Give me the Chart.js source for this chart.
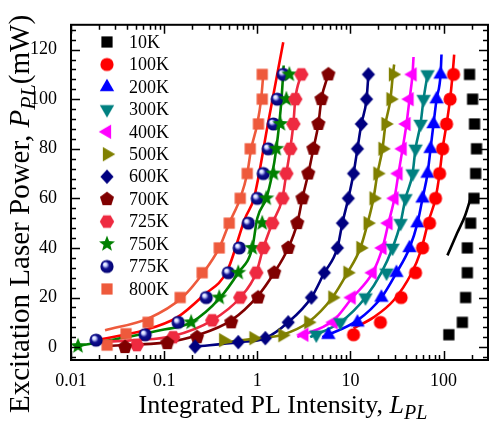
<!DOCTYPE html>
<html><head><meta charset="utf-8">
<script src="https://cdn.jsdelivr.net/npm/chart.js@4.4.1/dist/chart.umd.min.js"></script>
<style>html,body{margin:0;padding:0;background:#fff;}#wrap{width:496px;height:425px;}</style>
</head><body><div id="wrap"><canvas id="c" width="496" height="425"></canvas></div>
<script>
// ---- data (L = integrated PL intensity, P = laser power mW) ----
const legendLabels = ['10K','100K','200K','300K','400K','500K','600K','700K','725K','750K','775K','800K'];
const xTickValues = [0.01, 0.1, 1, 10, 100];
const xTickLabels = ['0.01', '0.1', '1', '10', '100'];
const yTickValues = [0, 20, 40, 60, 80, 100, 120];

const P_std = [5,10,20,30,40,50,60,70,80,90,100,110];
const L_10K  = [114,159,172.5,180,180,195,212,221,226,215,205,190];
const L_100K = [10.8,21,35,50,59.5,70.7,82,90.6,97.6,107.7,117.5,128];
const L_200K = [5.8,11.9,21.5,31.2,43.1,52.5,59.5,67.3,72.5,78,84.2,92.9];
const L_300K = [4.3,7.8,14.5,24.4,28.3,34.5,39,46.5,50,56.6,61,67.3];
const L_400K = [3.2,6.6,10.3,17.3,22.1,25.6,29.7,32.8,36.3,40,43.1,46.4];
const P_500K = [2.8,3.6,4.8,10,20,30,40,50,60,70,80,90,100,110];
const L_500K = [0.43,0.91,1.86,3.53,6.4,9.3,12.8,15.3,17.7,19.5,22.1,23.8,26.9,28.6];
const P_600K = [0.2,2,3.6,10,20,30,40,50,60,70,80,90,100,110];
const L_600K = [0.215,0.625,1.22,2.15,3.81,5.25,7.25,8.2,9.5,10.8,11.9,13.1,14.9,15.6];
const P_700K = [0,1.6,4,10,20,30,40,50,60,70,80,90,100,110];
const L_700K = [0.038,0.108,0.226,0.525,1.02,1.52,2.15,2.69,3.05,3.53,4.0,4.53,4.88,5.8];
const P_725K = [0.8,4,10.8,20,30,40,50,60,70,80,90,100,110];
const L_725K = [0.051,0.125,0.328,0.656,0.975,1.16,1.45,1.86,2.05,2.26,2.44,2.56,2.97];
const P_750K = [0.4,10,20,30,40,50,60,70,80,90,100,110];
const L_750K = [0.0119,0.195,0.39,0.625,0.884,1.13,1.25,1.49,1.6,1.77,2.05,2.21];
const P_775K = [2.8,5,10,20,30,40,50,60,70,80,90,100,110];
const L_775K = [0.0186,0.0625,0.1415,0.283,0.488,0.64,0.80,1.0,1.16,1.31,1.49,1.64,1.9];
const P_800K = [0.8,5.4,10,20,30,40,50,60,70,80,90,100,110];
const L_800K = [0.0244,0.039,0.0673,0.1486,0.256,0.39,0.50,0.656,0.78,0.84,1.03,1.13,1.13];

// fitted curves
const fitL_10K  = [110,140,170,195];
const fitP_10K  = [37,46,53,60];
const fitL_100K = [10.8,17.7,29,45,57,69,82,90.6,97.6,107.7,117.5,125,130];
const fitP_100K = [7.6,12,18.8,29.6,38.8,50.8,60,70,80,90,100,110,118];
const fitL_200K = [5,11.9,21.5,31.2,43.1,52.5,59.5,67.3,72.5,78,84.2,92.9,95];
const fitP_200K = [4,10.8,20,30,40,50,60,70,80,90,100,110,118];
const fitL_300K = [3.7,7.8,14.5,21.5,28.3,34.5,39,46.5,50,56.6,61,67.3];
const fitP_300K = [4,10,20,30,40,50,60,70,80,90,100,110];
const fitL_400K = [2.69,6.6,10.5,17.3,22.1,25.6,29.7,32.8,36.3,40,43.1,46.4,47.6];
const fitP_400K = [4,10.8,20,30,40,50,60,70,80,90,100,110,117];
const fitL_500K = [0.40,0.91,1.86,3.53,6.4,9.3,12.8,15.3,17.7,19.5,22.1,23.8,26.9,28.6,29.5];
const fitP_500K = [1.6,3.4,5,10,20,30,40,50,60,70,80,90,100,110,114];
const fitL_600K = [0.215,0.625,1.22,2.15,3.81,5.25,7.25,8.2,9.5,10.8,11.9,13.1,14.9,15.6];
const fitP_600K = [0.2,2,3.6,10,20,30,40,50,60,70,80,90,100,110];
const fitL_700K = [0.025,0.108,0.226,0.525,1.02,1.52,2.15,2.69,3.05,3.53,4.0,4.53,4.88,5.8];
const fitP_700K = [0.5,2,4.8,10.8,20.8,30,40,50,60,70,80,90,100,110];
const fitL_725K = [0.018,0.05,0.125,0.328,0.656,0.975,1.16,1.45,1.86,2.05,2.26,2.44,2.56,2.97];
const fitP_725K = [2,2.8,4.5,10.8,20,30,40,50,60,70,80,90,100,110];
const fitL_750K = [0.0119,0.091,0.195,0.4,0.625,0.884,1.0,1.25,1.45,1.6,1.72,1.82,1.92];
const fitP_750K = [0.4,6.8,10,20,30,40,52,60,70,80,90,100,113.6];
const fitL_775K = [0.0183,0.061,0.138,0.263,0.476,0.74,0.92,1.3,1.9];
const fitP_775K = [2.8,6.8,12,20.8,30.8,52,60,90,123];
const fitL_800K = [0.0232,0.068,0.156,0.263,0.39,0.5,0.656,0.78,0.86,1.0,1.1,1.16];
const fitP_800K = [6.8,11.6,20,30,40,50,60,70,80,90,100,110];

// ---- marker images ----
function mk(size, draw){const c=document.createElement('canvas');c.width=c.height=size;const g=c.getContext('2d');g.translate(size/2,size/2);draw(g);return c;}
function poly(g,pts,col){g.beginPath();pts.forEach((p,i)=>i?g.lineTo(p[0],p[1]):g.moveTo(p[0],p[1]));g.closePath();g.fillStyle=col;g.fill();}
function regular(n,R,a0){const p=[];for(let k=0;k<n;k++){const a=(a0+k*360/n)*Math.PI/180;p.push([R*Math.cos(a),R*Math.sin(a)]);}return p;}
const M = {
  square:(col)=>mk(16,g=>{g.fillStyle=col;g.fillRect(-5.6,-5.6,11.2,11.2);}),
  circle:(col)=>mk(16,g=>{g.beginPath();g.arc(0,0,6.6,0,Math.PI*2);g.fillStyle=col;g.fill();}),
  tri:(col,a0)=>mk(20,g=>poly(g,regular(3,8.3,a0),col)),
  diamond:(col)=>mk(18,g=>poly(g,[[0,-7.2],[6.6,0],[0,7.2],[-6.6,0]],col)),
  pent:(col)=>mk(18,g=>poly(g,regular(5,7.4,-90),col)),
  hex:(col)=>mk(18,g=>poly(g,regular(6,7.2,0),col)),
  star:(col)=>mk(20,g=>{const p=[];for(let k=0;k<10;k++){const r=k%2?3.6:8.4;const a=(-90+k*36)*Math.PI/180;p.push([r*Math.cos(a),r*Math.sin(a)]);}poly(g,p,col);}),
  sphere:(col)=>mk(16,g=>{const gr=g.createRadialGradient(-2.4,-2.6,0.3,0,0,6.8);gr.addColorStop(0,'#ffffff');gr.addColorStop(0.22,'#c8d0ff');gr.addColorStop(0.5,'#101090');gr.addColorStop(1,col);g.beginPath();g.arc(0,0,6.6,0,Math.PI*2);g.fillStyle=gr;g.fill();})
};

const series = [
  {L:L_10K, P:P_std, fL:fitL_10K, fP:fitP_10K, col:'#000000', lc:'#000000', m:M.square('#000000')},
  {L:L_100K,P:P_std, fL:fitL_100K,fP:fitP_100K,col:'#ff0000', lc:'#ff0000', m:M.circle('#ff0000')},
  {L:L_200K,P:P_std, fL:fitL_200K,fP:fitP_200K,col:'#0000ff', lc:'#0000ff', m:M.tri('#0000ff',-90)},
  {L:L_300K,P:P_std, fL:fitL_300K,fP:fitP_300K,col:'#008080', lc:'#008080', m:M.tri('#008080',90)},
  {L:L_400K,P:P_std, fL:fitL_400K,fP:fitP_400K,col:'#ff00ff', lc:'#ff00ff', m:M.tri('#ff00ff',180)},
  {L:L_500K,P:P_500K,fL:fitL_500K,fP:fitP_500K,col:'#808000', lc:'#808000', m:M.tri('#808000',0)},
  {L:L_600K,P:P_600K,fL:fitL_600K,fP:fitP_600K,col:'#000080', lc:'#000080', m:M.diamond('#000080')},
  {L:L_700K,P:P_700K,fL:fitL_700K,fP:fitP_700K,col:'#800000', lc:'#800000', m:M.pent('#800000')},
  {L:L_725K,P:P_725K,fL:fitL_725K,fP:fitP_725K,col:'#ee2a40', lc:'#ee2a40', m:M.hex('#ee2a40')},
  {L:L_750K,P:P_750K,fL:fitL_750K,fP:fitP_750K,col:'#008000', lc:'#008000', m:M.star('#008000')},
  {L:L_775K,P:P_775K,fL:fitL_775K,fP:fitP_775K,col:'#000080', lc:'#ff0000', m:M.sphere('#000070')},
  {L:L_800K,P:P_800K,fL:fitL_800K,fP:fitP_800K,col:'#ee5a3c', lc:'#ee5a3c', m:M.square('#ee5a3c')}
];

const datasets = [];
series.forEach((s,i)=>{
  datasets.push({type:'scatter',label:legendLabels[i],data:s.L.map((x,j)=>({x:x,y:s.P[j]})),
    pointStyle:s.m,pointRadius:6,borderWidth:0,backgroundColor:s.col,order:1,showLine:false});
});
series.forEach((s,i)=>{
  datasets.push({type:'line',label:legendLabels[i]+' fit',data:s.fL.map((x,j)=>({x:x,y:s.fP[j]})),
    borderColor:s.lc,borderWidth:2.6,pointRadius:0,fill:false,cubicInterpolationMode:'monotone',order:2});
});

const SERIF = '"Liberation Serif","Times New Roman",serif';

const decor = {
  id:'decor',
  afterDraw(chart){
    const ctx=chart.ctx, a=chart.chartArea, xs=chart.scales.x, ys=chart.scales.y;
    ctx.save();
    ctx.strokeStyle='#000';
    // ticks
    ctx.lineWidth=1.5;
    const MJ=9, MN=5;
    ctx.beginPath();
    for(let d=-2; d<=2; d++){
      for(let k=1;k<=9;k++){
        const v=k*Math.pow(10,d);
        if(v<0.01||v>=300) continue;
        const px=Math.round(xs.getPixelForValue(v))+0.5;
        const len=(k===1)?MJ:MN;
        ctx.moveTo(px,a.bottom);ctx.lineTo(px,a.bottom-len);
        ctx.moveTo(px,a.top);ctx.lineTo(px,a.top+len);
      }
    }
    for(let v=-4; v<=128; v+=4){
      const py=Math.round(ys.getPixelForValue(v))+0.5;
      const len=(v%20===0)?MJ:MN;
      ctx.moveTo(a.left,py);ctx.lineTo(a.left+len,py);
      ctx.moveTo(a.right,py);ctx.lineTo(a.right-len,py);
    }
    ctx.stroke();
    // frame
    ctx.lineWidth=2;
    ctx.strokeRect(a.left,a.top,a.right-a.left,a.bottom-a.top);
    // legend
    ctx.fillStyle='#000';
    ctx.font='18px '+SERIF;
    ctx.textBaseline='middle';
    ctx.textAlign='left';
    series.forEach((s,i)=>{
      const y=42+i*22.45;
      ctx.drawImage(s.m,107-s.m.width/2,y-s.m.height/2);
      ctx.fillText(legendLabels[i],129,y+1);
    });
    // x title
    ctx.textBaseline='alphabetic';
    function mixed(parts, cx, by){
      let w=0; parts.forEach(p=>{ctx.font=p.f;w+=ctx.measureText(p.t).width;});
      let x=cx-w/2;
      parts.forEach(p=>{ctx.font=p.f;ctx.fillText(p.t,x,by+(p.dy||0));x+=ctx.measureText(p.t).width;});
    }
    mixed([
      {t:'Integrated PL Intensity, ',f:'26px '+SERIF},
      {t:'L',f:'italic 26px '+SERIF},
      {t:'PL',f:'italic 20px '+SERIF,dy:6}
    ], 283, 413);
    // y title
    ctx.save();
    ctx.translate(29,214);
    ctx.rotate(-Math.PI/2);
    mixed([
      {t:'Excitation Laser Power, ',f:'29px '+SERIF},
      {t:'P',f:'italic 29px '+SERIF},
      {t:'PL',f:'italic 22px '+SERIF,dy:6},
      {t:'(mW)',f:'29px '+SERIF}
    ], 0, 0);
    ctx.restore();
    ctx.restore();
  }
};

new Chart(document.getElementById('c'),{
  data:{datasets:datasets},
  options:{
    responsive:false, animation:false, devicePixelRatio:1,
    layout:{padding:{top:22,right:8,left:0,bottom:0}},
    plugins:{legend:{display:false},tooltip:{enabled:false}},
    events:[],
    scales:{
      x:{type:'logarithmic',position:'bottom',min:0.01,max:300,
        grid:{display:false,drawTicks:false},border:{display:false},
        afterBuildTicks:s=>{s.ticks=xTickValues.map(v=>({value:v}));},
        afterFit:s=>{s.height=65;},
        ticks:{color:'#000',font:{family:SERIF,size:18},padding:10,autoSkip:false,maxRotation:0,
          callback:(v)=>{const i=xTickValues.indexOf(v);return i>=0?xTickLabels[i]:'';}}},
      y:{type:'linear',position:'left',min:-5.2,max:130,
        grid:{display:false,drawTicks:false},border:{display:false},
        afterBuildTicks:s=>{s.ticks=yTickValues.map(v=>({value:v}));},
        afterFit:s=>{s.width=71;},
        ticks:{color:'#000',font:{family:SERIF,size:18},padding:14,autoSkip:false}}
    }
  },
  plugins:[decor]
});
</script></body></html>
